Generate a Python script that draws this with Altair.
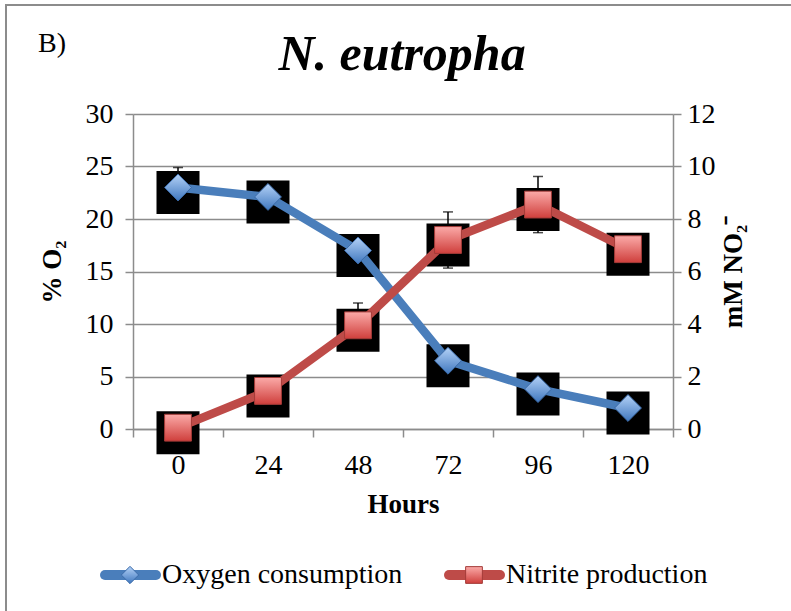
import altair as alt
import pandas as pd

# Sampling times (hours) and measured means with their error bars
hours = [0, 24, 48, 72, 96, 120]
oxygen = [23.0, 22.1, 17.0, 6.5, 3.8, 2.0]          # % O2
oxygen_err = [1.9, 0.8, 0.9, 1.2, 0.8, 0.6]
nitrite = [0.05, 1.45, 3.95, 7.2, 8.55, 6.85]        # mM NO2-
nitrite_err = [0.05, 0.5, 0.85, 1.07, 1.07, 0.5]

series = ["Oxygen consumption", "Nitrite production"]
o2_ticks = [0, 5, 10, 15, 20, 25, 30]
no2_ticks = [0, 2, 4, 6, 8, 10, 12]

FONT = "Liberation Serif"
GRAY = "#8c8c8c"
BLUE = "#4A7EBB"
RED = "#BE4B48"
W, H = 540, 315

df = pd.DataFrame({
    "hours": hours,
    "o2": oxygen,
    "o2_lo": [v - e for v, e in zip(oxygen, oxygen_err)],
    "o2_hi": [v + e for v, e in zip(oxygen, oxygen_err)],
    "no2": nitrite,
    "no2_lo": [v - e for v, e in zip(nitrite, nitrite_err)],
    "no2_hi": [v + e for v, e in zip(nitrite, nitrite_err)],
})

# category bands: ticks at band edges, labels shifted to band centres
step = hours[1] - hours[0]
edges = [h - step / 2 for h in hours] + [hours[-1] + step / 2]
x_scale = alt.Scale(domain=[edges[0], edges[-1]], nice=False, zero=False)
x_axis = alt.Axis(
    values=edges, title="Hours", grid=False,
    labelExpr=f"datum.value < {edges[-1]} ? format(datum.value + {step / 2}, 'd') : ''",
    labelOffset=W / len(hours) / 2, labelFlush=False, labelOverlap=False,
    labelBaseline="alphabetic", labelPadding=36,
    labelFont=FONT, labelFontSize=28, labelColor="black",
    tickSize=8, tickColor=GRAY, tickWidth=1.5,
    domainColor=GRAY, domainWidth=1.5,
    titleFont=FONT, titleFontSize=27, titleFontWeight="bold", titleColor="black",
    titleX=W / 2, titleY=83, titleAlign="center", titleBaseline="alphabetic",
)
x_enc = alt.X("hours:Q", scale=x_scale, axis=x_axis)

left_axis = alt.Axis(
    values=o2_ticks, title="% O₂", orient="left", grid=True,
    gridColor=GRAY, gridWidth=1.5, domainColor=GRAY, domainWidth=1.5,
    tickSize=8, tickColor=GRAY, tickWidth=1.5, labelPadding=12,
    labelFont=FONT, labelFontSize=28, labelColor="black",
    titleFont=FONT, titleFontSize=27, titleFontWeight="bold", titleColor="black",
    titleAngle=270, titleX=-81, titleY=H / 2, titleAlign="center", titleBaseline="middle",
)
right_axis = alt.Axis(
    values=no2_ticks, title="mM NO₂⁻", orient="right", grid=False,
    domainColor=GRAY, domainWidth=1.5,
    tickSize=8, tickColor=GRAY, tickWidth=1.5, labelPadding=6,
    labelFont=FONT, labelFontSize=28, labelColor="black",
    titleFont=FONT, titleFontSize=27, titleFontWeight="bold", titleColor="black",
    titleAngle=270, titleX=60, titleY=H / 2, titleAlign="center", titleBaseline="middle",
)
o2_scale = alt.Scale(domain=[o2_ticks[0], o2_ticks[-1]], nice=False)
no2_scale = alt.Scale(domain=[no2_ticks[0], no2_ticks[-1]], nice=False)


def y_left(field):
    return alt.Y(f"{field}:Q", scale=o2_scale, axis=left_axis)


def y_right(field):
    return alt.Y(f"{field}:Q", scale=no2_scale, axis=right_axis)


blue_fill = alt.LinearGradient(
    gradient="linear", x1=0, x2=0, y1=0, y2=1,
    stops=[alt.GradientStop(color="#B4D2F7", offset=0),
           alt.GradientStop(color="#3F77BE", offset=1)],
)
red_fill = alt.LinearGradient(
    gradient="linear", x1=0, x2=0, y1=0, y2=1,
    stops=[alt.GradientStop(color="#FBAAA8", offset=0),
           alt.GradientStop(color="#CF3F3C", offset=1)],
)

base = alt.Chart(df)


def series_layers(yfun, val, lo, hi, color, shape, size, fill, edge):
    shadow = base.mark_point(shape="square", size=1849, filled=True, color="black",
                             opacity=1, yOffset=5).encode(x=x_enc, y=yfun(val))
    bar = base.mark_rule(color="black", strokeWidth=1.5).encode(x=x_enc, y=yfun(lo), y2=f"{hi}:Q")
    cap_hi = base.mark_tick(orient="horizontal", size=10, thickness=1.5, color="black").encode(x=x_enc, y=yfun(hi))
    cap_lo = base.mark_tick(orient="horizontal", size=10, thickness=1.5, color="black").encode(x=x_enc, y=yfun(lo))
    line = base.mark_line(color=color, strokeWidth=8.5, strokeJoin="round").encode(x=x_enc, y=yfun(val))
    marker = base.mark_point(shape=shape, size=size, filled=True, fill=fill, stroke=edge,
                             strokeWidth=1, opacity=1).encode(x=x_enc, y=yfun(val))
    return [shadow, bar, cap_hi, cap_lo, line, marker]


# frame, title and panel letter
one = alt.Chart(pd.DataFrame({"title": ["N. eutropha"], "panel": ["B)"]}))
frame = one.mark_rect(fill="transparent", stroke=GRAY, strokeWidth=2).encode(
    x=alt.value(-127), x2=alt.value(W + 200), y=alt.value(-109), y2=alt.value(H + 250))
title = one.mark_text(font=FONT, fontSize=50, fontStyle="italic", fontWeight="bold",
                      align="center", baseline="alphabetic", color="black").encode(
    text="title:N", x=alt.value(W / 2 - 1), y=alt.value(-44))
panel = one.mark_text(font=FONT, fontSize=28, align="left", baseline="alphabetic",
                      color="black").encode(text="panel:N", x=alt.value(-95), y=alt.value(-62))

# legend
leg_y = H + 146
leg = alt.Chart(pd.DataFrame({"label": series}))


def legend_entry(i, x0, color, shape, size, fill, edge):
    d = leg.transform_filter(alt.datum.label == series[i])
    stroke = d.mark_rule(color=color, strokeWidth=10, strokeCap="round").encode(
        x=alt.value(x0 + 5), x2=alt.value(x0 + 56), y=alt.value(leg_y))
    sym = d.mark_point(shape=shape, size=size, filled=True, fill=fill, stroke=edge,
                       strokeWidth=1, opacity=1).encode(x=alt.value(x0 + 30), y=alt.value(leg_y))
    txt = d.mark_text(font=FONT, fontSize=28, align="left", baseline="middle", color="black").encode(
        text="label:N", x=alt.value(x0 + 62), y=alt.value(leg_y))
    return [stroke, sym, txt]


o2_group = alt.layer(
    frame, title, panel,
    *series_layers(y_left, "o2", "o2_lo", "o2_hi", BLUE, "diamond", 720, blue_fill, "#3A6AA8"),
    *legend_entry(0, -33, BLUE, "diamond", 300, blue_fill, "#3A6AA8"),
    *legend_entry(1, 311, RED, "square", 280, red_fill, "#A33B38"),
)
no2_group = alt.layer(
    *series_layers(y_right, "no2", "no2_lo", "no2_hi", RED, "square", 720, red_fill, "#A33B38"),
)

chart = alt.layer(o2_group, no2_group).resolve_scale(y="independent").properties(
    width=W, height=H,
    autosize=alt.AutoSizeParams(type="none"),
    padding={"left": 133, "top": 114, "right": 118, "bottom": 182},
    background="white",
).configure_view(stroke="transparent")

chart.save("out.html", embed_options={"renderer": "svg", "actions": False})
